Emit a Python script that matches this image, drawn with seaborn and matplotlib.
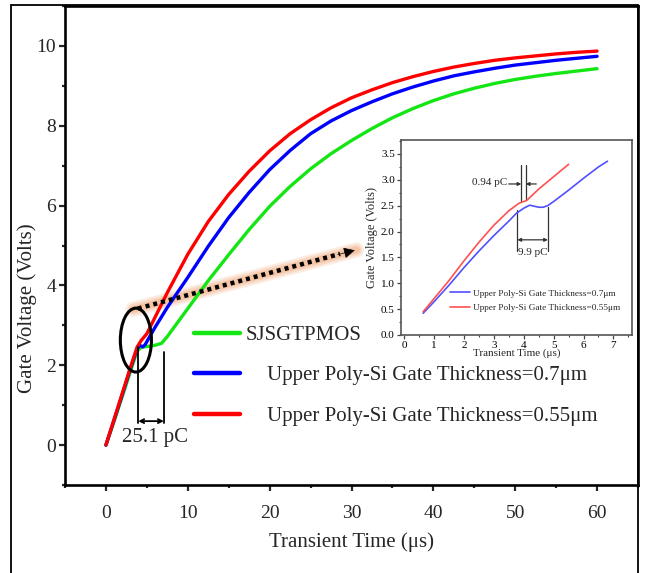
import numpy as np
import pandas as pd
import seaborn as sns
import matplotlib
matplotlib.use("Agg")
import matplotlib.pyplot as plt
from matplotlib.patches import Ellipse, Rectangle
from matplotlib.ticker import MultipleLocator

# ---------------- data ----------------
labels = ["SJSGTPMOS",
          "Upper Poly-Si Gate Thickness=0.7\u03bcm",
          "Upper Poly-Si Gate Thickness=0.55\u03bcm"]
colors = ["#14e614", "#0000ff", "#ff0000"]

t_green = [0, 1, 2, 3, 3.8, 4.3, 5, 6, 6.8, 7.5, 10, 12.5, 15, 17.5, 20, 22.5, 25, 27.5, 30,
           32.5, 35, 37.5, 40, 42.5, 45, 47.5, 50, 52.5, 55, 57.5, 60]
v_green = [0, 0.6, 1.22, 1.85, 2.35, 2.45, 2.47, 2.5, 2.55, 2.72, 3.42, 4.12, 4.77, 5.4, 5.98, 6.48, 6.92, 7.3, 7.63,
           7.93, 8.2, 8.43, 8.63, 8.8, 8.94, 9.06, 9.16, 9.24, 9.31, 9.37, 9.43]

t_blue = [0, 1, 2, 3, 3.7, 4.1, 4.5, 4.8, 5.3, 6, 7.5, 10, 12.5, 15, 17.5, 20, 22.5, 25, 27.5, 30,
          32.5, 35, 37.5, 40, 42.5, 45, 47.5, 50, 52.5, 55, 57.5, 60]
v_blue = [0, 0.63, 1.27, 1.92, 2.35, 2.5, 2.46, 2.52, 2.7, 2.95, 3.45, 4.2, 4.98, 5.7, 6.33, 6.9, 7.38, 7.8, 8.12, 8.38,
          8.6, 8.8, 8.97, 9.12, 9.25, 9.35, 9.44, 9.52, 9.58, 9.64, 9.69, 9.74]

t_red = [0, 1, 2, 3, 3.8, 4.3, 5, 7.5, 10, 12.5, 15, 17.5, 20, 22.5, 25, 27.5, 30,
         32.5, 35, 37.5, 40, 42.5, 45, 47.5, 50, 52.5, 55, 57.5, 60]
v_red = [0, 0.65, 1.3, 1.95, 2.45, 2.62, 2.79, 3.82, 4.78, 5.6, 6.28, 6.86, 7.37, 7.8, 8.15, 8.45, 8.7,
         8.9, 9.08, 9.23, 9.36, 9.47, 9.56, 9.64, 9.7, 9.75, 9.8, 9.84, 9.87]

# inset (zoom of the plateau region)
inset_labels = ["Upper Poly-Si Gate Thickness=0.7\u03bcm",
                "Upper Poly-Si Gate Thickness=0.55\u03bcm"]
inset_colors = ["#5050ff", "#ff5050"]
ti_blue = [0.64, 1.0, 1.5, 2.0, 2.5, 3.0, 3.5, 3.75, 4.0, 4.2, 4.35, 4.5, 4.65, 4.8, 5.0, 5.5, 6.0, 6.5, 6.8]
vi_blue = [0.42, 0.64, 0.96, 1.3, 1.62, 1.92, 2.2, 2.35, 2.45, 2.51, 2.49, 2.47, 2.47, 2.5, 2.58, 2.8, 3.03, 3.25, 3.36]
ti_red = [0.64, 1.0, 1.5, 2.0, 2.5, 3.0, 3.5, 3.85, 4.0, 4.1, 4.5, 5.0, 5.5]
vi_red = [0.45, 0.7, 1.05, 1.43, 1.79, 2.12, 2.4, 2.55, 2.58, 2.6, 2.82, 3.06, 3.3]

main_xticks = [0, 10, 20, 30, 40, 50, 60]
main_yticks = [0, 2, 4, 6, 8, 10]
inset_xticks = [0, 1, 2, 3, 4, 5, 6, 7]
inset_yticks = [0.0, 0.5, 1.0, 1.5, 2.0, 2.5, 3.0, 3.5]

# ---------------- style ----------------
sns.set_style("ticks")
plt.rcParams["font.family"] = ["Liberation Serif", "DejaVu Serif"]
plt.rcParams["lines.solid_joinstyle"] = "round"

W, H = 649, 573
fig = plt.figure(figsize=(W / 100, H / 100), dpi=100)
fig.patch.set_facecolor("white")

# outer frame
fig.patches.append(Rectangle((11 / W, -0.05), (638 - 11) / W, 1.05 - 5 / H,
                             transform=fig.transFigure, fill=False,
                             edgecolor="black", linewidth=1.3, zorder=0))

ax = fig.add_axes([65 / W, 1 - 485 / H, (638 - 65) / W, (485 - 6) / H])
ax.set_facecolor("white")

series = [(t_green, v_green), (t_blue, v_blue), (t_red, v_red)]
for (tt, vv), lab, col in zip(series, labels, colors):
    df = pd.DataFrame({"t": tt, "v": vv})
    sns.lineplot(data=df, x="t", y="v", color=col, linewidth=2.4, label=lab,
                 ax=ax, sort=False, estimator=None, zorder=3)

ax.set_xlim(-5, 65)
ax.set_ylim(-1, 11)
ax.set_xticks(main_xticks)
ax.set_yticks(main_yticks)
ax.xaxis.set_minor_locator(MultipleLocator(5))
ax.yaxis.set_minor_locator(MultipleLocator(1))
ax.tick_params(which="major", direction="out", length=4.5, width=1.6, labelsize=14)
ax.tick_params(axis="x", which="major", pad=10)
ax.tick_params(axis="y", which="major", pad=2)
ax.tick_params(which="minor", direction="out", length=2.5, width=1.6)
for s in ax.spines.values():
    s.set_linewidth(1.9)
    s.set_color("black")
ax.set_xlabel("Transient Time (\u03bcs)", fontsize=15, labelpad=7)
ax.set_ylabel("Gate Voltage (Volts)", fontsize=15)
ax.yaxis.set_label_coords(-0.048, 0.37)

# legend (custom indentation of the last two entries as in the reference)
handles, _ = ax.get_legend_handles_labels()
leg_labels = [labels[0], "    " + labels[1], "    " + labels[2]]
leg = ax.legend(handles, leg_labels, loc="upper left", bbox_to_anchor=(0.226, 0.333),
                frameon=False, fontsize=15, handlelength=2.2, handletextpad=0.25,
                labelspacing=1.0, borderpad=0, borderaxespad=0)
for h in leg.get_lines():
    h.set_linewidth(3.2)

# ellipse marking the plateau
ax.add_patch(Ellipse((3.66, 2.63), 3.8, 1.6, fill=False, edgecolor="black",
                     linewidth=2.2, zorder=5))

# glowing dotted arrow towards the inset
arr_start = (3.6, 3.42)
arr_end = (30.4, 4.88)
for lw, a in [(11, 0.18), (8, 0.25), (5, 0.35)]:
    ax.plot([arr_start[0] - 0.3, arr_end[0] + 0.2], [arr_start[1] - 0.02, arr_end[1] + 0.01],
            color="#ef9f6a", linewidth=lw, alpha=a, solid_capstyle="round", zorder=2)
ax.plot([3.9, 28.6], [3.42, 4.79], color="black", linewidth=3.2,
        linestyle=(0, (0.9, 0.9)), dash_capstyle="butt", zorder=4)
ax.annotate("", xy=arr_end, xytext=(28.3, 4.77),
            arrowprops=dict(arrowstyle="-|>", color="black", lw=0.5,
                            mutation_scale=17, shrinkA=0, shrinkB=0), zorder=4)

# 25.1 pC annotation
ax.plot([3.95, 3.95], [2.46, 0.55], color="black", linewidth=1.3, zorder=4)
ax.plot([7.07, 7.07], [2.33, 0.55], color="black", linewidth=1.3, zorder=4)
ax.annotate("", xy=(3.95, 0.6), xytext=(7.07, 0.6),
            arrowprops=dict(arrowstyle="<->", color="black", lw=1.3,
                            mutation_scale=7, shrinkA=0, shrinkB=0), zorder=4)
ax.text(6.0, 0.19, "25.1 pC", fontsize=15, ha="center", va="center", zorder=4)

# ---------------- inset ----------------
axi = fig.add_axes([401 / W, 1 - 335 / H, (632 - 401) / W, (335 - 140) / H])
axi.set_facecolor("white")
for (tt, vv), lab, col in zip([(ti_blue, vi_blue), (ti_red, vi_red)], inset_labels, inset_colors):
    df = pd.DataFrame({"t": tt, "v": vv})
    sns.lineplot(data=df, x="t", y="v", color=col, linewidth=1.2, label=lab,
                 ax=axi, sort=False, estimator=None, zorder=3)
axi.set_xlim(-0.1, 7.62)
axi.set_ylim(0, 3.77)
axi.set_xticks(inset_xticks)
axi.set_yticks(inset_yticks)
axi.set_xticklabels([str(v) for v in inset_xticks])
axi.set_yticklabels([f"{v:.1f}" for v in inset_yticks])
axi.xaxis.set_minor_locator(MultipleLocator(0.5))
axi.yaxis.set_minor_locator(MultipleLocator(0.25))
axi.tick_params(which="major", direction="out", length=3, width=0.9, labelsize=8,
                pad=1.5, colors="#444444", labelcolor="black")
axi.tick_params(which="minor", direction="out", length=1.6, width=0.8, colors="#444444")
for s in axi.spines.values():
    s.set_linewidth(1.2)
    s.set_color("#555555")
axi.set_xlabel("Transient Time (\u03bcs)", fontsize=8, labelpad=-1)
axi.set_ylabel("Gate Voltage (Volts)", fontsize=9, labelpad=2)
axi.legend(loc="upper left", bbox_to_anchor=(0.21, 0.235), frameon=False, fontsize=6.7,
           handlelength=2.2, handletextpad=0.3, labelspacing=0.65, borderpad=0,
           borderaxespad=0)

ac = "#333333"
# 0.94 pC
axi.plot([3.92, 3.92], [3.29, 2.6], color=ac, linewidth=0.9)
axi.plot([4.07, 4.07], [3.29, 2.62], color=ac, linewidth=0.9)
axi.annotate("", xy=(3.92, 2.92), xytext=(3.5, 2.92),
             arrowprops=dict(arrowstyle="-|>", color=ac, lw=0.9, mutation_scale=5,
                             shrinkA=0, shrinkB=0))
axi.annotate("", xy=(4.07, 2.92), xytext=(4.42, 2.92),
             arrowprops=dict(arrowstyle="-|>", color=ac, lw=0.9, mutation_scale=5,
                             shrinkA=0, shrinkB=0))
axi.text(3.45, 2.94, "0.94 pC", fontsize=8, ha="right", va="center")
# 9.9 pC
axi.plot([3.79, 3.79], [2.42, 1.62], color=ac, linewidth=0.9)
axi.plot([4.81, 4.81], [2.47, 1.62], color=ac, linewidth=0.9)
axi.annotate("", xy=(3.79, 1.84), xytext=(4.81, 1.84),
             arrowprops=dict(arrowstyle="<|-|>", color=ac, lw=0.9, mutation_scale=5,
                             shrinkA=0, shrinkB=0))
axi.text(4.3, 1.6, "9.9 pC", fontsize=8, ha="center", va="center")

fig.savefig("out.png", dpi=100, facecolor="white")
